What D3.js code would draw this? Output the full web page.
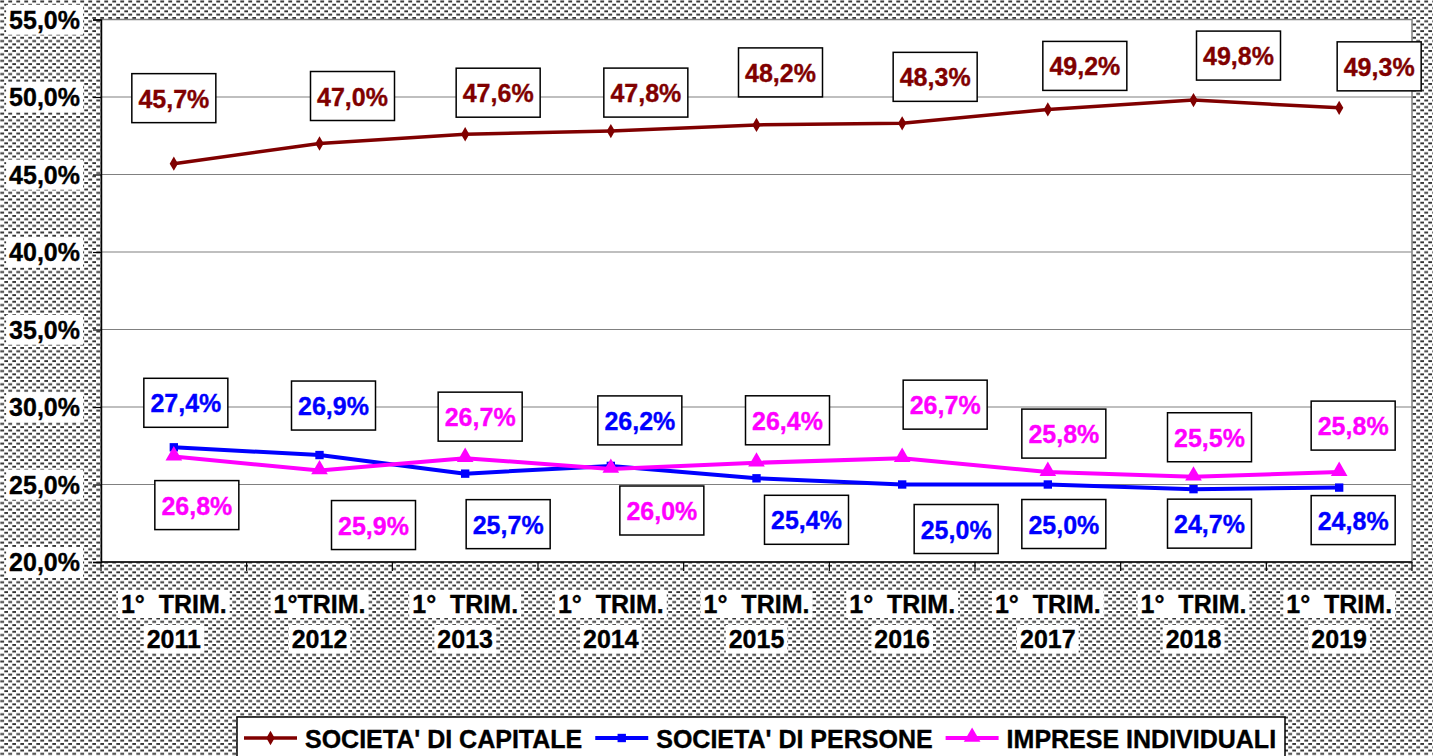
<!DOCTYPE html>
<html><head><meta charset="utf-8">
<script src="https://cdn.jsdelivr.net/npm/d3@7"></script>
<style>
html,body{margin:0;padding:0;background:#fff;}
svg{display:block;font-family:Arial,"Liberation Sans",sans-serif;}
</style></head>
<body>
<svg id="chart" width="1433" height="756"></svg>
<script>
// ---- data ----
const categories = ["2011","2012","2013","2014","2015","2016","2017","2018","2019"];
const categoryPrefix = ["1°  TRIM.","1°TRIM.","1°  TRIM.","1°  TRIM.","1°  TRIM.","1°  TRIM.","1°  TRIM.","1°  TRIM.","1°  TRIM."];
const seriesNames = ["SOCIETA' DI CAPITALE","SOCIETA' DI PERSONE","IMPRESE INDIVIDUALI"];
const capitale   = [45.7, 47.0, 47.6, 47.8, 48.2, 48.3, 49.2, 49.8, 49.3];
const persone    = [27.4, 26.9, 25.7, 26.2, 25.4, 25.0, 25.0, 24.7, 24.8];
const individuali= [26.8, 25.9, 26.7, 26.0, 26.4, 26.7, 25.8, 25.5, 25.8];
const yTicks = [20, 25, 30, 35, 40, 45, 50, 55];

// ---- layout / style (manual label placement as in the original) ----
const colors = ["#800000", "#0000FF", "#FF00FF"];
const markers = ["diamond", "square", "triangle"];
const labelNudge = [
  [[0,-65],[33,-47],[33,-41],[35,-38],[24,-52],[33,-46],[37,-43],[45,-44],[40,-41]],
  [[12,-44],[14,-49],[43,51],[29,-45],[50,42],[54,45],[16,40],[16,35],[14,33]],
  [[23,49],[54,55],[15,-41],[51,42],[31,-42],[43,-53],[16,-38],[16,-39],[14,-46]]
];
const series = [capitale, persone, individuali];
const FS = 25;

const svg = d3.select("#chart");
const W = 1433, H = 756;
const plot = {left: 101, right: 1412, top: 19.5, bottom: 562};

// hatch pattern
const defs = svg.append("defs");
const pat = defs.append("pattern").attr("id","hatch").attr("patternUnits","userSpaceOnUse")
  .attr("width", 8).attr("height", 6.6);
pat.append("rect").attr("width",8).attr("height",6.6).attr("fill","#fff");
pat.append("rect").attr("x",0.3).attr("y",0.5).attr("width",3.8).attr("height",1.9).attr("fill","#333");
pat.append("rect").attr("x",4.3).attr("y",3.8).attr("width",3.8).attr("height",1.9).attr("fill","#333");

svg.append("rect").attr("width",W).attr("height",H).attr("fill","url(#hatch)");

const x = d3.scaleBand().domain(categories).range([plot.left, plot.right]).padding(0);
const y = d3.scaleLinear().domain([20, 55]).range([plot.bottom, plot.top]);
const cx = c => x(c) + x.bandwidth()/2;

// plot area
svg.append("rect").attr("x",plot.left).attr("y",plot.top)
  .attr("width",plot.right-plot.left).attr("height",plot.bottom-plot.top)
  .attr("fill","#fff").attr("stroke","#808080").attr("stroke-width",1.5);

// gridlines
svg.append("g").selectAll("line").data(yTicks.filter(t => t>20 && t<55)).join("line")
  .attr("x1",plot.left).attr("x2",plot.right)
  .attr("y1",d=>y(d)).attr("y2",d=>y(d))
  .attr("stroke","#808080").attr("stroke-width",1.2);

function bold(sel, color){
  return sel.attr("font-size",FS).attr("font-weight","bold").attr("fill",color)
    .attr("stroke",color).attr("stroke-width",0.35)
    .attr("font-family","Arial, 'Liberation Sans', sans-serif");
}

// y axis
const fmt = v => v.toFixed(1).replace(".", ",") + "%";
const yAxis = svg.append("g").attr("transform",`translate(${plot.left},0)`)
  .call(d3.axisLeft(y).tickValues(yTicks).tickFormat(fmt).tickSize(8).tickPadding(13));
yAxis.select(".domain").attr("stroke","#000").attr("stroke-width",1.5);
yAxis.selectAll(".tick line").attr("stroke","#000").attr("stroke-width",1.2);
bold(yAxis.selectAll(".tick text"), "#000").attr("dy","0.35em");
yAxis.selectAll(".tick").each(function(){
  const t = d3.select(this).select("text");
  const bb = t.node().getBBox();
  d3.select(this).insert("rect","text").attr("x",bb.x-3).attr("y",bb.y-1)
    .attr("width",bb.width+6).attr("height",bb.height+2).attr("fill","#fff");
});

// x axis
const xAxis = svg.append("g").attr("transform",`translate(0,${plot.bottom})`);
xAxis.append("line").attr("x1",plot.left).attr("x2",plot.right).attr("y1",0).attr("y2",0)
  .attr("stroke","#000").attr("stroke-width",1.5);
const bounds = categories.map(c => x(c)).concat([plot.right]);
xAxis.selectAll("line.tk").data(bounds).join("line").attr("class","tk")
  .attr("x1",d=>d).attr("x2",d=>d).attr("y1",0).attr("y2",9)
  .attr("stroke","#000").attr("stroke-width",1.2);
const xl = xAxis.selectAll("g.lbl").data(categories).join("g").attr("class","lbl")
  .attr("transform", c => `translate(${cx(c)},0)`);
xl.each(function(c, i){
  const g = d3.select(this);
  [[categoryPrefix[i], 51],[c, 86]].forEach(([txt, by]) => {
    const t = bold(g.append("text").attr("x",0).attr("y",by).attr("text-anchor","middle"), "#000")
      .style("white-space","pre").text(txt);
    const bb = t.node().getBBox();
    g.insert("rect","text").attr("x",bb.x-3).attr("y",bb.y)
      .attr("width",bb.width+6).attr("height",bb.height).attr("fill","#fff");
  });
});

// lines
const line = d3.line().x((d,i)=>cx(categories[i])).y(d=>y(d));
const widths = [3.5, 4, 4];
series.forEach((s, si) => {
  svg.append("path").datum(s).attr("d",line).attr("fill","none")
    .attr("stroke",colors[si]).attr("stroke-width",widths[si]).attr("stroke-linejoin","round");
});

function markerPath(type){
  if(type==="diamond") return d3.symbol(d3.symbolDiamond, 60)();
  if(type==="square") return d3.symbol(d3.symbolSquare, 70)();
  return d3.symbol(d3.symbolTriangle, 120)();
}
series.forEach((s, si) => {
  svg.append("g").selectAll("path").data(s).join("path")
    .attr("d", markerPath(markers[si]))
    .attr("transform",(d,i)=>`translate(${cx(categories[i])},${y(d) + (markers[si]==="triangle"? -1:0)})`)
    .attr("fill",colors[si]);
});

// data labels
series.forEach((s, si) => {
  const g = svg.append("g");
  s.forEach((v, i) => {
    const px = cx(categories[i]) + labelNudge[si][i][0];
    const py = y(v) + labelNudge[si][i][1];
    g.append("rect").attr("x",px-42).attr("y",py-25).attr("width",84).attr("height",49)
      .attr("fill","#fff").attr("stroke","#000").attr("stroke-width",1.5);
    bold(g.append("text").attr("x",px).attr("y",py).attr("dy","0.36em").attr("text-anchor","middle"), colors[si])
      .text(fmt(v));
  });
});

// legend
const lg = svg.append("g");
lg.append("rect").attr("x",237).attr("y",717).attr("width",1048).attr("height",50)
  .attr("fill","#fff").attr("stroke","#000").attr("stroke-width",1.5);
let lx = 244;
seriesNames.forEach((name, si) => {
  const ly = 738;
  lg.append("line").attr("x1",lx).attr("x2",lx+53).attr("y1",ly).attr("y2",ly)
    .attr("stroke",colors[si]).attr("stroke-width",widths[si]);
  lg.append("path").attr("d", markerPath(markers[si]))
    .attr("transform",`translate(${lx+26.5},${ly + (markers[si]==="triangle"? -1:0)})`).attr("fill",colors[si]);
  const t = bold(lg.append("text").attr("x",lx+61).attr("y",748), "#000").text(name);
  lx = lx + 61 + t.node().getComputedTextLength() + 13;
});
</script>
</body></html>
